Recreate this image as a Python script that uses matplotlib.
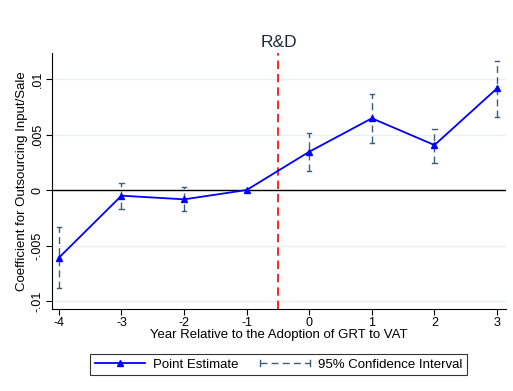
import matplotlib
matplotlib.use("Agg")
import matplotlib.pyplot as plt
from matplotlib.lines import Line2D
from matplotlib.legend_handler import HandlerBase
import numpy as np

plt.rcParams['font.family'] = ['Liberation Sans', 'DejaVu Sans']

years = [-4, -3, -2, -1, 0, 1, 2, 3]
estimate = [-0.0061, -0.00051, -0.00084, 0.0, 0.00345, 0.00646, 0.00405, 0.00916]
ci_upper = [-0.00336, 0.00066, 0.0003, 0.0, 0.0051, 0.00862, 0.00553, 0.01162]
ci_lower = [-0.0088, -0.00174, -0.0019, 0.0, 0.00174, 0.00426, 0.00246, 0.00655]
yticks = [-0.01, -0.005, 0, 0.005, 0.01]
yticklabels = ['-.01', '-.005', '0', '.005', '.01']

ci_color = '#3e5c78'
line_color = '#0000ff'


class CIHandler(HandlerBase):
    def create_artists(self, legend, orig_handle, xdescent, ydescent, width, height, fontsize, trans):
        yc = height / 2 - ydescent
        x0 = -xdescent
        x1 = -xdescent + width
        h = height * 0.3
        main = Line2D([x0, x1], [yc, yc], color=ci_color, lw=1.0, ls=(0, (5, 3)), transform=trans)
        c1 = Line2D([x0, x0], [yc - h, yc + h], color=ci_color, lw=1.0, transform=trans)
        c2 = Line2D([x1, x1], [yc - h, yc + h], color=ci_color, lw=1.0, transform=trans)
        return [main, c1, c2]


fig = plt.figure(figsize=(5.13, 3.91), dpi=100)
ax = fig.add_axes([0.1014, 0.2097, 0.8846, 0.6555])

ax.set_xlim(-4.11, 3.14)
ax.set_ylim(-0.01072, 0.01237)

for y in yticks:
    ax.axhline(y, color='#e8f0f2', lw=1.0, zorder=0)
ax.axhline(0, color='black', lw=1.0, zorder=1)
ax.axvline(-0.5, color='#ff0000', lw=1.2, ls=(0, (5, 3)), zorder=2)

for x, lo, hi in zip(years, ci_lower, ci_upper):
    if hi - lo > 0:
        ax.plot([x, x], [lo, hi], color=ci_color, lw=1.0, ls=(0, (5, 3)), zorder=3)
        ax.plot([x - 0.035, x + 0.035], [hi, hi], color=ci_color, lw=1.0, zorder=3)
        ax.plot([x - 0.035, x + 0.035], [lo, lo], color=ci_color, lw=1.0, zorder=3)

ax.plot(years, estimate, color=line_color, lw=1.3, marker='^', markersize=5, zorder=4)

ax.set_xticks(years)
ax.set_xticklabels([str(v) for v in years])
ax.set_yticks(yticks)
ax.set_yticklabels(yticklabels, rotation=90, va='center')
ax.tick_params(axis='both', labelsize=9, length=4, width=0.8, color='black', pad=2)
for s in ['top', 'right']:
    ax.spines[s].set_visible(False)
for s in ['left', 'bottom']:
    ax.spines[s].set_linewidth(0.8)

ax.set_xlabel('Year Relative to the Adoption of GRT to VAT', fontsize=9.5, labelpad=0)
ax.set_ylabel('Coefficient for Outsourcing Input/Sale', fontsize=9.5, labelpad=3)
ax.set_title('R&D', fontsize=12.5, color='#1a2a40', pad=4)

ci_handle = object()
handles = [
    Line2D([0], [0], color=line_color, lw=1.3, marker='^', markersize=5),
    ci_handle,
]
leg = fig.legend(handles, ['Point Estimate', '95% Confidence Interval'],
                 handler_map={ci_handle: CIHandler()},
                 loc='center', bbox_to_anchor=(0.543, 0.0678), ncol=2,
                 fontsize=9.5, frameon=True, fancybox=False, edgecolor='black',
                 handlelength=3.8, handletextpad=0.6, columnspacing=1.6, borderpad=0.35,
                 borderaxespad=0)
leg.get_frame().set_linewidth(0.8)

fig.savefig('out.png', dpi=100)
